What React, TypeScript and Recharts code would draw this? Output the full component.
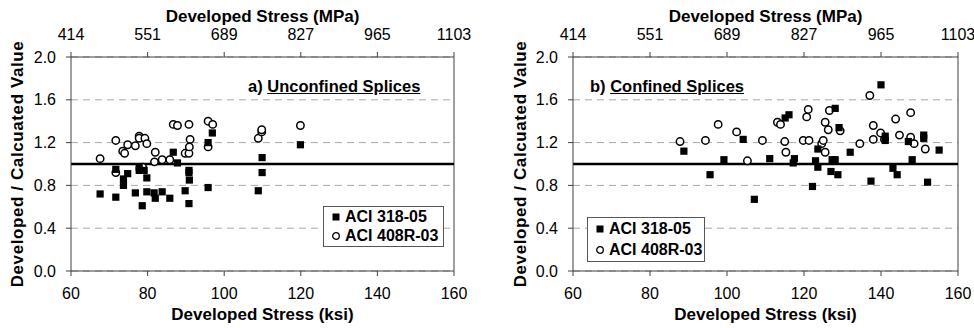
import {
  ScatterChart,
  Scatter,
  XAxis,
  YAxis,
  CartesianGrid,
  ReferenceLine,
  Legend,
} from "recharts";

const FONT = '"Liberation Sans", Arial, sans-serif';

const ksiTicks = [60, 80, 100, 120, 140, 160];
const mpaLabels = ["414", "551", "689", "827", "965", "1103"];
const ratioTicks = [0, 0.4, 0.8, 1.2, 1.6, 2.0];
const seriesNames = ["ACI 318-05", "ACI 408R-03"];

// a) unconfined splices
const unconfined318 = [
  [67.6, 0.72], [71.7, 0.69], [71.7, 0.95], [73.7, 0.86], [73.7, 0.8],
  [74.8, 0.91], [76.8, 0.73], [77.8, 0.97], [77.8, 0.94], [78.6, 0.61],
  [79.1, 0.94], [79.8, 0.87], [79.8, 0.74], [81.7, 0.73], [82.0, 0.68],
  [83.8, 0.74], [85.8, 0.68], [86.7, 1.11], [87.8, 1.01], [89.8, 0.75],
  [90.8, 0.94], [90.8, 0.92], [90.9, 0.85], [90.8, 0.63], [95.8, 1.2],
  [96.9, 1.29], [95.8, 0.78], [108.9, 0.75], [109.9, 1.06], [109.9, 0.92],
  [119.9, 1.18],
];
const unconfined408 = [
  [67.6, 1.05], [71.7, 1.22], [71.7, 0.92], [73.5, 1.12], [74.0, 1.1],
  [74.8, 1.18], [76.8, 1.17], [77.8, 1.26], [77.8, 1.24], [78.7, 0.97],
  [79.3, 1.24], [79.8, 1.19], [82.0, 1.11], [81.8, 1.02], [83.8, 1.04],
  [85.8, 1.04], [86.7, 1.37], [87.8, 1.36], [89.8, 1.1], [90.8, 1.1],
  [90.8, 1.37], [91.1, 1.23], [90.9, 1.16], [95.8, 1.4], [97.0, 1.37],
  [95.8, 1.16], [108.9, 1.24], [109.8, 1.3], [109.8, 1.32], [119.9, 1.36],
];

// b) confined splices
const confined318 = [
  [88.8, 1.12], [95.6, 0.9], [99.2, 1.04], [104.2, 1.23], [107.1, 0.67],
  [111.1, 1.05], [115.1, 1.43], [116.1, 1.46], [117.5, 1.05], [117.2, 1.01],
  [122.2, 0.79], [123.0, 1.03], [123.6, 0.97], [123.6, 1.14], [127.0, 0.93],
  [127.3, 1.04], [128.1, 1.04], [128.1, 1.52], [128.8, 0.9], [129.1, 1.34],
  [132.0, 1.11], [137.4, 0.84], [140.0, 1.74], [141.1, 1.26], [141.1, 1.22],
  [143.1, 0.96], [144.2, 0.9], [147.1, 1.21], [148.1, 1.04], [151.1, 1.27],
  [151.1, 1.24], [152.1, 0.83], [155.1, 1.13],
];
const confined408 = [
  [87.8, 1.21], [94.4, 1.22], [97.7, 1.37], [102.5, 1.3], [105.3, 1.03],
  [109.2, 1.22], [113.1, 1.39], [113.9, 1.37], [115.0, 1.21], [115.3, 1.11],
  [119.8, 1.22], [121.3, 1.22], [121.1, 1.51], [120.7, 1.44], [124.6, 1.19],
  [125.0, 1.22], [125.5, 1.11], [125.5, 1.39], [126.3, 1.32], [126.6, 1.5],
  [129.4, 1.31], [134.5, 1.19], [137.1, 1.64], [138.0, 1.36], [138.0, 1.23],
  [139.9, 1.29], [140.9, 1.23], [143.8, 1.42], [144.8, 1.27], [147.7, 1.48],
  [147.7, 1.25], [148.6, 1.19], [151.5, 1.14],
];

const toPoints = (arr: number[][]) => arr.map(([x, y]) => ({ x, y }));

const AXIS = "#404040";
const tickStyle = { fill: "#000", fontSize: 16, fontFamily: FONT };
const titleStyle = { fill: "#000", fontSize: 17, fontWeight: "bold", fontFamily: FONT };

const Square = (p: any) => (
  <rect x={p.cx - 3.6} y={p.cy - 3.6} width={7.2} height={7.2} fill="#000" />
);
const Ring = (p: any) => (
  <circle cx={p.cx} cy={p.cy} r={3.7} fill="#fff" stroke="#000" strokeWidth={1.5} />
);

function LegendBox({ w, h }: { w: number; h: number }) {
  const row = { display: "flex", alignItems: "center", height: (h - 4) / 2 };
  return (
    <div
      style={{
        width: w,
        height: h,
        boxSizing: "border-box",
        border: "1px solid #555",
        background: "#fff",
        padding: "1px 0 1px 7px",
        fontFamily: FONT,
        fontSize: 16,
        fontWeight: "bold",
        color: "#000",
      }}
    >
      <div style={row}>
        <svg width={10} height={10} style={{ marginRight: 4 }}>
          <rect x={1.5} y={1.5} width={7} height={7} fill="#000" />
        </svg>
        {seriesNames[0]}
      </div>
      <div style={row}>
        <svg width={10} height={10} style={{ marginRight: 4 }}>
          <circle cx={5} cy={5} r={3.3} fill="#fff" stroke="#000" strokeWidth={1.3} />
        </svg>
        {seriesNames[1]}
      </div>
    </div>
  );
}

function Panel(props: {
  left: number;
  yAxisWidth: number;
  rightMargin: number;
  yLabelOffset: number;
  squares: number[][];
  circles: number[][];
  tag: string;
  title: string;
  titleX: number;
  legend: { x: number; y: number; w: number; h: number };
}) {
  return (
    <div style={{ position: "absolute", left: props.left, top: 0, width: 487, height: 328 }}>
      <ScatterChart
        width={487}
        height={328}
        margin={{ top: 0, right: props.rightMargin, bottom: 0, left: 0 }}
      >
        <CartesianGrid
          vertical={false}
          stroke="#a8a8a8"
          strokeDasharray="7 5"
          xAxisId="bottom"
        />
        <XAxis
          xAxisId="top"
          orientation="top"
          type="number"
          dataKey="x"
          domain={[60, 160]}
          ticks={ksiTicks}
          allowDataOverflow
          height={57}
          tickSize={5}
          tickMargin={12}
          stroke={AXIS}
          tick={tickStyle}
          tickFormatter={(_v: number, i: number) => mpaLabels[i]}
          label={{ value: "Developed Stress (MPa)", position: "insideTop", offset: 10, style: titleStyle }}
        />
        <XAxis
          xAxisId="bottom"
          orientation="bottom"
          type="number"
          dataKey="x"
          domain={[60, 160]}
          ticks={ksiTicks}
          allowDataOverflow
          height={57}
          tickSize={5}
          tickMargin={12}
          stroke={AXIS}
          tick={tickStyle}
          label={{ value: "Developed Stress (ksi)", position: "insideBottom", offset: 8, style: titleStyle }}
        />
        <YAxis
          type="number"
          dataKey="y"
          domain={[0, 2]}
          ticks={ratioTicks}
          width={props.yAxisWidth}
          tickSize={5}
          tickMargin={10}
          stroke={AXIS}
          tick={tickStyle}
          tickFormatter={(v: number) => v.toFixed(1)}
          label={{
            value: "Developed / Calcuated Value",
            angle: -90,
            position: "insideLeft",
            offset: props.yLabelOffset,
            style: { ...titleStyle, textAnchor: "middle", letterSpacing: 0.6 },
          }}
        />
        <ReferenceLine xAxisId="bottom" x={160} stroke={AXIS} strokeWidth={1} />
        <ReferenceLine xAxisId="bottom" y={1} stroke="#000" strokeWidth={2.6} />
        <Scatter
          xAxisId="bottom"
          name={seriesNames[1]}
          data={toPoints(props.circles)}
          shape={Ring}
          isAnimationActive={false}
        />
        <Scatter
          xAxisId="bottom"
          name={seriesNames[0]}
          data={toPoints(props.squares)}
          shape={Square}
          isAnimationActive={false}
        />
        <Legend
          layout="horizontal"
          verticalAlign="middle"
          align="center"
          wrapperStyle={{
            left: props.legend.x,
            top: props.legend.y,
            width: props.legend.w,
            height: props.legend.h,
          }}
          content={() => <LegendBox w={props.legend.w} h={props.legend.h} />}
        />
      </ScatterChart>
      <div
        style={{
          position: "absolute",
          left: props.titleX,
          top: 78,
          fontFamily: FONT,
          fontSize: 16.5,
          fontWeight: "bold",
          lineHeight: "16px",
          color: "#000",
          whiteSpace: "nowrap",
        }}
      >
        {props.tag} <span style={{ textDecoration: "underline" }}>{props.title}</span>
      </div>
    </div>
  );
}

export default function App() {
  return (
    <div
      style={{
        position: "absolute",
        left: 0,
        top: 0,
        width: 974,
        height: 328,
        background: "#fff",
        overflow: "hidden",
      }}
    >
      <Panel
        left={0}
        yAxisWidth={71}
        rightMargin={33}
        yLabelOffset={17}
        squares={unconfined318}
        circles={unconfined408}
        tag="a)"
        title="Unconfined Splices"
        titleX={248}
        legend={{ x: 323, y: 206, w: 121, h: 41 }}
      />
      <Panel
        left={487}
        yAxisWidth={86}
        rightMargin={16}
        yLabelOffset={33}
        squares={confined318}
        circles={confined408}
        tag="b)"
        title="Confined Splices"
        titleX={103}
        legend={{ x: 100, y: 217, w: 118, h: 45 }}
      />
    </div>
  );
}
